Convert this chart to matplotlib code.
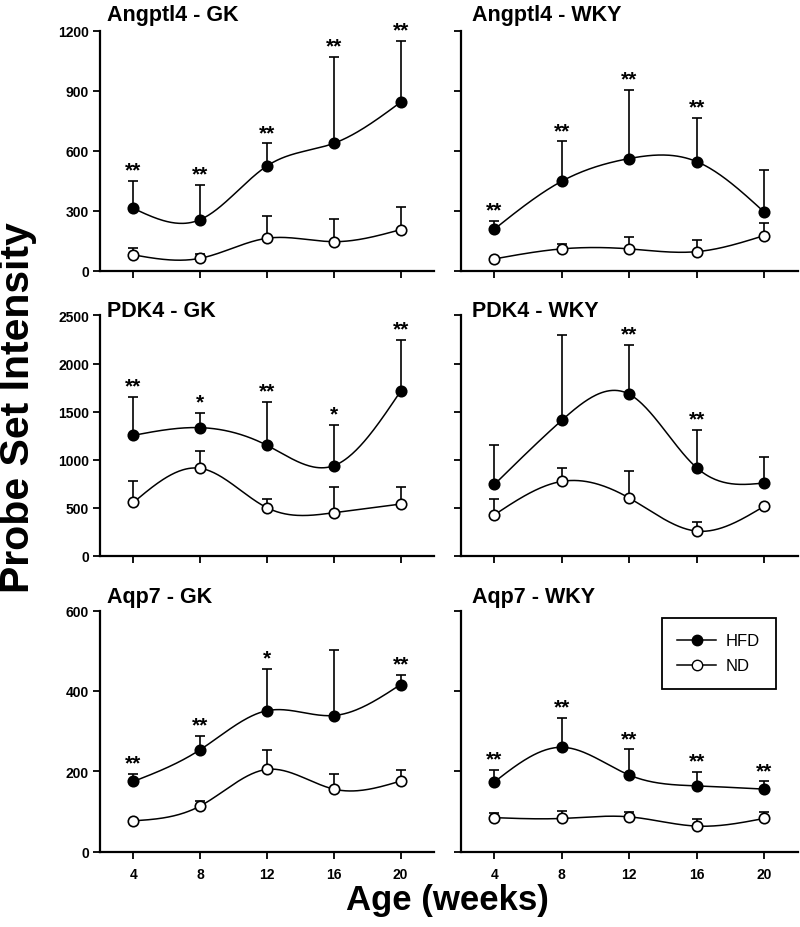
# Probe set intensity of Angptl4, PDK4 and Aqp7 in GK and WKY rats, HFD vs ND

import numpy as np
import matplotlib
matplotlib.use('Agg')
import matplotlib.pyplot as plt
from matplotlib.lines import Line2D

plt.rcParams['font.family'] = ['Liberation Sans', 'DejaVu Sans']

weeks = [4, 8, 12, 16, 20]

# Angptl4
angptl4_gk_hfd = [312, 256, 524, 637, 842]
angptl4_gk_hfd_err = [450, 430, 637, 1067, 1148]
angptl4_gk_nd = [80, 63, 163, 146, 206]
angptl4_gk_nd_err = [113, 85, 272, 259, 317]
angptl4_gk_stars = ['**', '**', '**', '**', '**']

angptl4_wky_hfd = [209, 448, 561, 546, 295]
angptl4_wky_hfd_err = [250, 647, 903, 765, 503]
angptl4_wky_nd = [60, 110, 110, 96, 176]
angptl4_wky_nd_err = [62, 133, 171, 156, 239]
angptl4_wky_stars = ['**', '**', '**', '**', '']

# PDK4
pdk4_gk_hfd = [1253, 1333, 1149, 937, 1712]
pdk4_gk_hfd_err = [1653, 1490, 1597, 1365, 2243]
pdk4_gk_nd = [555, 910, 500, 448, 538]
pdk4_gk_nd_err = [778, 1090, 587, 719, 719]
pdk4_gk_stars = ['**', '*', '**', '*', '**']

pdk4_wky_hfd = [743, 1410, 1681, 917, 757]
pdk4_wky_hfd_err = [1153, 2295, 2191, 1306, 1028]
pdk4_wky_nd = [427, 774, 601, 257, 514]
pdk4_wky_nd_err = [587, 910, 878, 351, 530]
pdk4_wky_stars = ['', '', '**', '**', '']

# Aqp7
aqp7_gk_hfd = [175, 254, 351, 339, 416]
aqp7_gk_hfd_err = [194, 289, 454, 503, 440]
aqp7_gk_nd = [77, 114, 205, 156, 176]
aqp7_gk_nd_err = [80, 127, 253, 194, 203]
aqp7_gk_stars = ['**', '**', '*', '', '**']

aqp7_wky_hfd = [174, 260, 191, 164, 156]
aqp7_wky_hfd_err = [203, 333, 255, 198, 175]
aqp7_wky_nd = [85, 83, 87, 64, 83]
aqp7_wky_nd_err = [96, 102, 99, 81, 98]
aqp7_wky_stars = ['**', '**', '**', '**', '**']

titles = [['Angptl4 - GK', 'Angptl4 - WKY'],
          ['PDK4 - GK', 'PDK4 - WKY'],
          ['Aqp7 - GK', 'Aqp7 - WKY']]
yticks = [[0, 300, 600, 900, 1200],
          [0, 500, 1000, 1500, 2000, 2500],
          [0, 200, 400, 600]]

panels = [
    [(angptl4_gk_hfd, angptl4_gk_hfd_err, angptl4_gk_nd, angptl4_gk_nd_err, angptl4_gk_stars),
     (angptl4_wky_hfd, angptl4_wky_hfd_err, angptl4_wky_nd, angptl4_wky_nd_err, angptl4_wky_stars)],
    [(pdk4_gk_hfd, pdk4_gk_hfd_err, pdk4_gk_nd, pdk4_gk_nd_err, pdk4_gk_stars),
     (pdk4_wky_hfd, pdk4_wky_hfd_err, pdk4_wky_nd, pdk4_wky_nd_err, pdk4_wky_stars)],
    [(aqp7_gk_hfd, aqp7_gk_hfd_err, aqp7_gk_nd, aqp7_gk_nd_err, aqp7_gk_stars),
     (aqp7_wky_hfd, aqp7_wky_hfd_err, aqp7_wky_nd, aqp7_wky_nd_err, aqp7_wky_stars)],
]


def smooth(x, y, n=200):
    # natural cubic spline through the points, only used to draw the curve
    x = np.asarray(x, float)
    y = np.asarray(y, float)
    h = np.diff(x)
    N = len(x)
    A = np.zeros((N, N))
    b = np.zeros(N)
    A[0, 0] = 1
    A[-1, -1] = 1
    for i in range(1, N - 1):
        A[i, i - 1] = h[i - 1]
        A[i, i] = 2 * (h[i - 1] + h[i])
        A[i, i + 1] = h[i]
        b[i] = 3 * ((y[i + 1] - y[i]) / h[i] - (y[i] - y[i - 1]) / h[i - 1])
    c = np.linalg.solve(A, b)
    xs = np.linspace(x[0], x[-1], n)
    ys = np.empty_like(xs)
    for k, xv in enumerate(xs):
        i = min(np.searchsorted(x, xv, side='right') - 1, N - 2)
        t = xv - x[i]
        bi = (y[i + 1] - y[i]) / h[i] - h[i] * (2 * c[i] + c[i + 1]) / 3
        di = (c[i + 1] - c[i]) / (3 * h[i])
        ys[k] = y[i] + bi * t + c[i] * t ** 2 + di * t ** 3
    return xs, ys


fig = plt.figure(figsize=(8, 9.28), dpi=100)

lefts = [0.125, 0.576]
widths = [0.4175, 0.421]
bottoms = [0.707, 0.400, 0.081]
heights = [0.259, 0.259, 0.260]
title_y = [0.983, 0.664, 0.356]
title_x = [0.134, 0.590]

axes = []
for r in range(3):
    for c in range(2):
        ax = fig.add_axes([lefts[c], bottoms[r], widths[c], heights[r]])
        hfd, hfd_err, nd, nd_err, stars = panels[r][c]

        for vals, errs, face in [(hfd, hfd_err, 'black'), (nd, nd_err, 'white')]:
            vals = np.array(vals)
            up = np.array(errs) - vals
            xs, ys = smooth(weeks, vals)
            ax.plot(xs, ys, color='black', lw=1.1, zorder=2)
            ax.errorbar(weeks, vals, yerr=[np.zeros_like(up), up], fmt='none',
                        ecolor='black', elinewidth=1.2, capsize=3.5, capthick=1.2, zorder=3)
            ax.plot(weeks, vals, 'o', ms=7.5, mfc=face, mec='black', mew=1.2, zorder=4)

        for x, top, s in zip(weeks, hfd_err, stars):
            if s:
                ax.annotate(s, xy=(x, top), xytext=(0, 1), textcoords='offset points',
                            ha='center', va='bottom', fontsize=15, fontweight='bold')

        ax.set_xlim(2, 22)
        ax.set_ylim(0, yticks[r][-1])
        ax.set_xticks(weeks)
        ax.set_yticks(yticks[r])
        ax.spines['top'].set_visible(False)
        ax.spines['right'].set_visible(False)
        ax.spines['left'].set_linewidth(1.6)
        ax.spines['bottom'].set_linewidth(1.6)
        ax.tick_params(direction='out', length=5, width=1.3, labelsize=10, pad=3)
        if c == 0:
            ax.set_yticklabels([str(t) for t in yticks[r]], fontweight='bold')
        else:
            ax.tick_params(labelleft=False)
        if r == 2:
            ax.set_xticklabels([str(w) for w in weeks], fontweight='bold')
            ax.tick_params(axis='x', pad=6)
        else:
            ax.tick_params(labelbottom=False)

        fig.text(title_x[c], title_y[r], titles[r][c], fontsize=15.5, fontweight='bold',
                 ha='left', va='center')
        axes.append(ax)

handles = [Line2D([], [], color='black', lw=1.1, marker='o', ms=7.5, mfc='black', mec='black'),
           Line2D([], [], color='black', lw=1.1, marker='o', ms=7.5, mfc='white', mec='black')]
leg = axes[5].legend(handles, ['HFD', 'ND'], loc='upper right', bbox_to_anchor=(0.935, 0.971),
                     borderaxespad=0, fontsize=12, frameon=True, fancybox=False, framealpha=1,
                     edgecolor='black', handlelength=2.3, handletextpad=0.6,
                     labelspacing=0.6, borderpad=0.95)
leg.get_frame().set_linewidth(1.3)

fig.text(0.022, 0.561, 'Probe Set Intensity', rotation=90, fontsize=29.5,
         fontweight='bold', ha='center', va='center')
fig.text(0.559, 0.030, 'Age (weeks)', fontsize=25, fontweight='bold',
         ha='center', va='center')

fig.savefig('out.png', dpi=100)
